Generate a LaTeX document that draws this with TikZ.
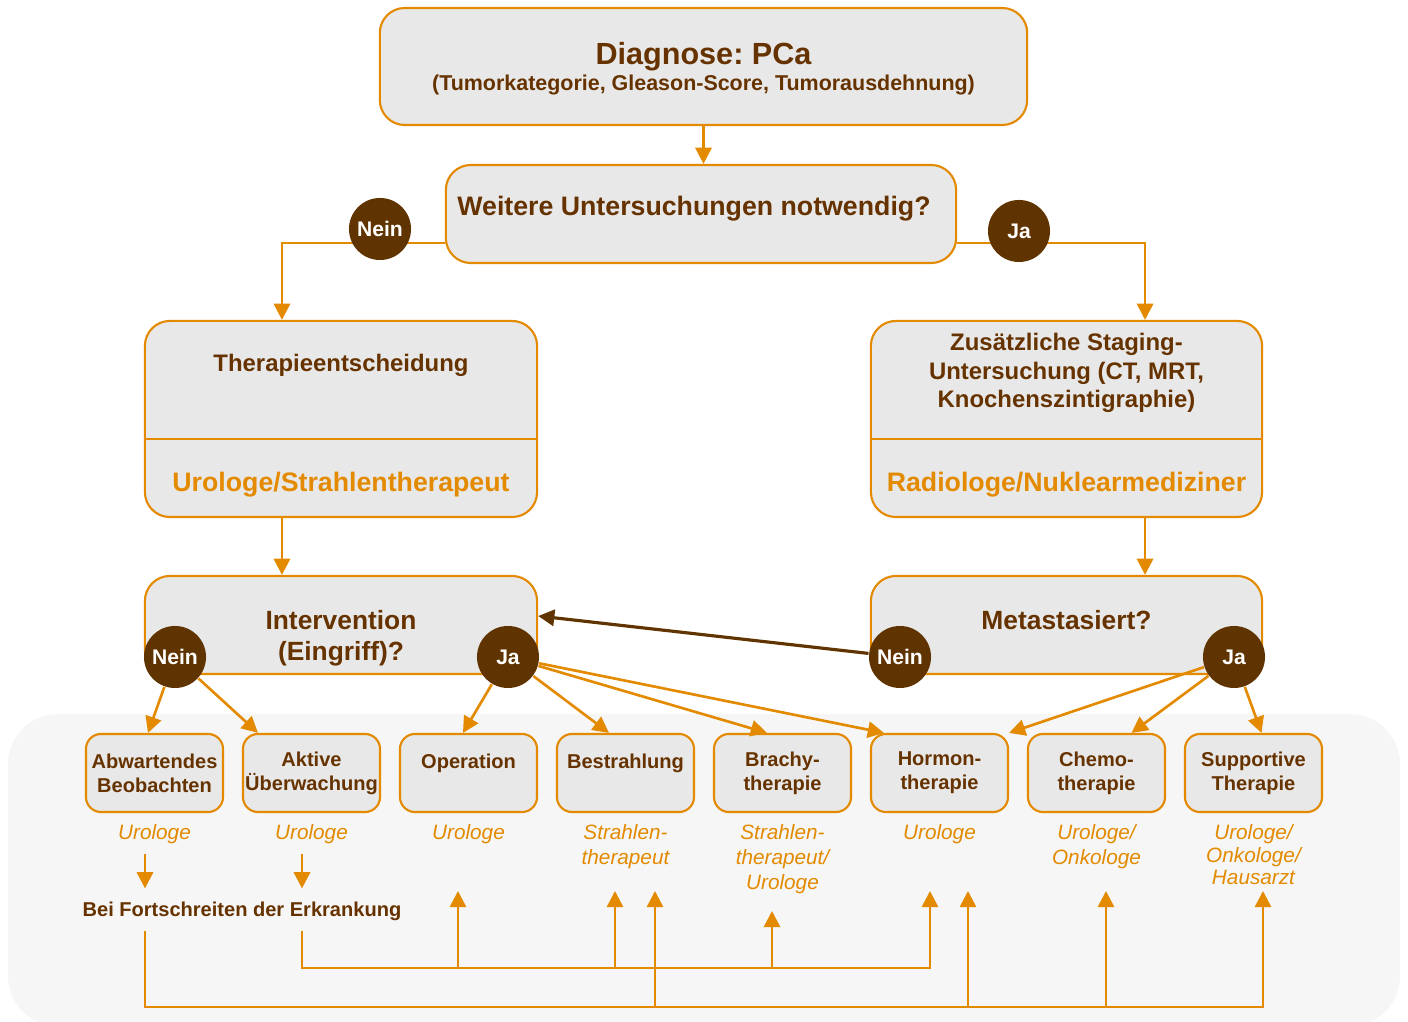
\documentclass[tikz,border=0pt]{standalone}
\usepackage{fontspec}
\setmainfont{Liberation Sans}
\usetikzlibrary{arrows.meta}
\definecolor{pcaorange}{RGB}{227,138,0}
\definecolor{pcabrown}{RGB}{102,51,0}
\definecolor{pcadark}{RGB}{96,52,0}
\definecolor{pcagray}{RGB}{232,232,232}
\definecolor{pcapanel}{RGB}{246,246,246}
\tikzset{
	kasten/.style={draw=pcaorange, line width=0.6pt, fill=pcagray, rounded corners=0.25cm, text=pcabrown, align=center, inner sep=0pt},
	kaestchen/.style={kasten, rounded corners=0.15cm, minimum width=1.37cm, minimum height=0.78cm, font=\bfseries\fontsize{5.7}{6.8}\selectfont},
	titel/.style={text=pcabrown, align=center, inner sep=0pt, font=\bfseries\fontsize{6.8}{8}\selectfont},
	fach/.style={text=pcaorange, inner sep=0pt, font=\bfseries\fontsize{7.6}{9}\selectfont},
	antwort/.style={circle, fill=pcadark, text=white, minimum size=0.62cm, inner sep=0pt, font=\bfseries\fontsize{6}{7}\selectfont},
	wer/.style={text=pcaorange, align=center, inner sep=0pt, anchor=north, font=\itshape\fontsize{5.9}{7.1}\selectfont},
	linie/.style={draw=pcaorange, line width=0.75pt},
	pfeil/.style={linie, -{Triangle[length=4.6pt, width=4.6pt]}},
	braunpfeil/.style={draw=pcadark, line width=0.9pt, -{Triangle[length=4.6pt, width=4.6pt]}},
}

\begin{document}
\begin{tikzpicture}[x=0.01cm, y=-0.01cm]
		%%%%% START %%%%%
		\useasboundingbox (0,0) rectangle (1408,1022);
		
		\fill[pcapanel, rounded corners=0.5cm] (8,714) rectangle (1400,1026);
		
		\node[kasten, minimum width=6.47cm, minimum height=1.17cm] (diag) at (703.5,66.5) {};
		\node[titel, font=\bfseries\fontsize{6.1}{7.5}\selectfont] (diagTitel) at (703.5,69) {{\fontsize{8.7}{7.5}\selectfont Diagnose:\ PCa}\\(Tumorkategorie, Gleason-Score, Tumorausdehnung)};
		\node[kasten, minimum width=5.1cm, minimum height=0.98cm] (weitere) at (701,214) {};
		\node[titel, font=\bfseries\fontsize{7.6}{9}\selectfont] (weitereTitel) at (694,209) {Weitere Untersuchungen notwendig?};
		\draw[pfeil] (diag.south) -- (diag.south |- weitere.north);
		
		\node[kasten, minimum width=3.92cm, minimum height=1.96cm] (therapie) at (341,419) {};
		\draw[linie] (therapie.west |- 0,439) -- (therapie.east |- 0,439);
		\node[titel] (therapieTitel) at (341,365) {Therapieentscheidung};
		\node[fach] (therapieWer) at (341,485) {Urologe/Strahlentherapeut};
		
		\node[kasten, minimum width=3.91cm, minimum height=1.96cm] (zusatz) at (1066.5,419) {};
		\draw[linie] (zusatz.west |- 0,439) -- (zusatz.east |- 0,439);
		\node[titel] (zusatzTitel) at (1066.5,373) {Zusätzliche Staging-\\Untersuchung (CT, MRT,\\Knochenszintigraphie)};
		\node[fach] (zusatzWer) at (1066.5,485) {Radiologe/Nuklearmediziner};
		
		\node[kasten, minimum width=3.92cm, minimum height=0.98cm] (interv) at (341,625) {};
		\node[titel, font=\bfseries\fontsize{7.5}{8.8}\selectfont] (intervTitel) at (341,638) {Intervention\\(Eingriff)?};
		\node[kasten, minimum width=3.91cm, minimum height=0.98cm] (metast) at (1066.5,625) {};
		\node[titel, font=\bfseries\fontsize{7.5}{8.8}\selectfont] (metastTitel) at (1066.5,620) {Metastasiert?};
		
		\draw[pfeil] ([yshift=-0.29cm]weitere.west) -| ([xshift=-0.59cm]therapie.north);
		\draw[pfeil] ([yshift=-0.29cm]weitere.east) -| ([xshift=0.785cm]zusatz.north);
		\draw[pfeil] ([xshift=-0.59cm]therapie.south) -- ([xshift=-0.59cm]interv.north);
		\draw[pfeil] ([xshift=0.785cm]zusatz.south) -- ([xshift=0.785cm]metast.north);
		
		% Therapieformen
		\node[kaestchen] (abw) at (154.5,773) {Abwartendes\\Beobachten};
		\node[kaestchen] (akt) at (311.5,773) {Aktive\\Überwachung};
		\node[kaestchen] (op) at (468.5,773) {Operation\\\mbox{}};
		\node[kaestchen] (bestr) at (625.5,773) {Bestrahlung\\\mbox{}};
		\node[kaestchen] (brachy) at (782.5,773) {Brachy-\\therapie};
		\node[kaestchen] (hormon) at (939.5,773) {Hormon-\\therapie};
		\node[kaestchen] (chemo) at (1096.5,773) {Chemo-\\therapie};
		\node[kaestchen] (supp) at (1253.5,773) {Supportive\\Therapie};
		
		\node[wer] (werAbw) at (154.5,824) {Urologe};
		\node[wer] (werAkt) at (311.5,824) {Urologe};
		\node[wer] (werOp) at (468.5,824) {Urologe};
		\node[wer] (werBestr) at (625.5,824) {Strahlen-\\therapeut};
		\node[wer] (werBrachy) at (782.5,824) {Strahlen-\\therapeut/\\Urologe};
		\node[wer] (werHormon) at (939.5,824) {Urologe};
		\node[wer] (werChemo) at (1096.5,824) {Urologe/\\Onkologe};
		\node[wer, font=\itshape\fontsize{5.9}{6.4}\selectfont] (werSupp) at (1253.5,824) {Urologe/\\Onkologe/\\Hausarzt};
		
		\node[text=pcabrown, anchor=west, inner sep=0pt, font=\bfseries\fontsize{5.7}{7}\selectfont] (fort) at (82,911) {Bei Fortschreiten der Erkrankung};
		\draw[pfeil, shorten <=0.09cm, shorten >=0.125cm] (werAbw.south -| 145,0) -- (fort.north -| 145,0);
		\draw[pfeil, shorten <=0.09cm, shorten >=0.125cm] (werAkt.south -| 302,0) -- (fort.north -| 302,0);
		
		% Rueckfuehrung
		\coordinate (zielOp) at (458,891);
		\coordinate (zielBestrA) at (615,891);
		\coordinate (zielBestrB) at (655,891);
		\coordinate (zielBrachy) at (772,911);
		\coordinate (zielHormonA) at (930,891);
		\coordinate (zielHormonB) at (968,891);
		\coordinate (zielChemo) at (1106,891);
		\coordinate (zielSupp) at (1263,891);
		
		\draw[pfeil, shorten <=0.1cm] (fort.south -| 302,0) |- (zielHormonA |- 0,968) -- (zielHormonA);
		\draw[pfeil] (zielOp |- 0,968) -- (zielOp);
		\draw[pfeil] (zielBestrA |- 0,968) -- (zielBestrA);
		\draw[pfeil] (zielBrachy |- 0,968) -- (zielBrachy);
		\draw[pfeil, shorten <=0.1cm] (fort.south -| 145,0) |- (zielSupp |- 0,1007) -- (zielSupp);
		\draw[pfeil] (zielBestrB |- 0,1007) -- (zielBestrB);
		\draw[pfeil] (zielHormonB |- 0,1007) -- (zielHormonB);
		\draw[pfeil] (zielChemo |- 0,1007) -- (zielChemo);
		
		% Ja / Nein
		\node[antwort] (neinA) at (380,229) {Nein};
		\node[antwort] (jaA) at (1019,231) {Ja};
		\node[antwort] (neinB) at (175,657) {Nein};
		\node[antwort] (jaB) at (508,657) {Ja};
		\node[antwort] (neinC) at (900,657) {Nein};
		\node[antwort] (jaC) at (1234,657) {Ja};
		
		\draw[pfeil] (neinB) -- ([xshift=-0.065cm]abw.north);
		\draw[pfeil] (neinB) -- ([xshift=-0.535cm]akt.north);
		\draw[pfeil] (jaB) -- ([xshift=-0.055cm]op.north);
		\draw[pfeil] (jaB) -- ([xshift=-0.165cm]bestr.north);
		\draw[pfeil] (jaB) -- ([xshift=-0.155cm]brachy.north);
		\draw[pfeil] (jaB) -- ([xshift=-0.555cm]hormon.north);
		\draw[pfeil] (jaC) -- (hormon.north east);
		\draw[pfeil] (jaC) -- ([xshift=0.35cm]chemo.north);
		\draw[pfeil] (jaC) -- ([xshift=0.08cm]supp.north);
		\draw[braunpfeil] (neinC) -- ([yshift=0.09cm]interv.east);
		
		%%%%% END %%%%%
\end{tikzpicture}
\end{document}
